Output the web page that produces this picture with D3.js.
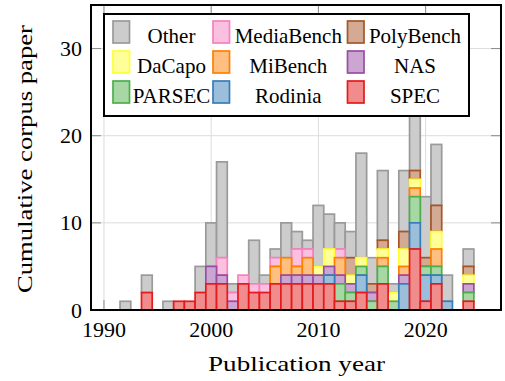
<!DOCTYPE html>
<html>
<head>
<meta charset="utf-8">
<script src="https://cdn.jsdelivr.net/npm/d3@7"></script>
<style>
  body { margin: 0; background: #fff; }
  svg text { font-family: "Liberation Serif", "Times New Roman", Times, serif; fill: #000; }
</style>
</head>
<body>
<svg id="chart" width="505" height="381"></svg>
<script>
// years on the x axis
var years = d3.range(1990, 2025);

// papers per year, one array per benchmark suite (index 0 = 1990)
var spec       = [0,0,0,0,2,0,0,1,1,2, 3,3,0,3,2,2,3,3,3,3, 3,3,1,1,2,0,3,0,0,7, 1,3,0,0,1];
var rodinia    = [0,0,0,0,0,0,0,0,0,0, 0,0,0,0,0,0,0,0,0,0, 0,1,0,0,2,0,0,0,3,3, 3,1,1,0,0];
var parsec     = [0,0,0,0,0,0,0,0,0,0, 0,0,0,0,0,0,0,0,0,0, 0,0,2,1,1,1,2,1,0,3, 1,1,0,0,1];
var nas        = [0,0,0,0,0,0,0,0,0,0, 2,1,1,0,0,0,0,1,1,1, 1,1,1,1,0,1,0,0,1,0, 0,0,0,0,1];
var mibench    = [0,0,0,0,0,0,0,0,0,0, 0,0,0,0,0,0,2,2,1,2, 0,0,2,0,0,0,1,0,1,1, 0,2,0,0,0];
var dacapo     = [0,0,0,0,0,0,0,0,0,0, 0,0,0,0,0,0,0,0,0,0, 1,2,0,1,1,0,1,1,2,1, 0,2,0,0,1];
var polybench  = [0,0,0,0,0,0,0,0,0,0, 0,0,0,0,0,0,0,0,0,0, 0,0,0,2,0,1,1,0,2,1, 1,3,0,0,1];
var mediabench = [0,0,0,0,0,0,0,0,0,0, 0,2,1,1,1,1,1,0,2,1, 0,0,1,0,0,0,0,0,0,0, 0,0,0,0,0];
var other      = [0,0,1,0,2,0,1,0,0,3, 5,11,1,0,5,1,1,4,2,1, 7,4,3,3,12,3,8,1,7,8, 7,7,3,0,2];

// stacking order, bottom first
var keys = ["SPEC", "Rodinia", "PARSEC", "NAS", "MiBench", "DaCapo", "PolyBench", "MediaBench", "Other"];
var seriesData = [spec, rodinia, parsec, nas, mibench, dacapo, polybench, mediabench, other];

// legend order (row by row)
var legendKeys = ["Other", "MediaBench", "PolyBench", "DaCapo", "MiBench", "NAS", "PARSEC", "Rodinia", "SPEC"];

var yTicks = [0, 10, 20, 30];
var xTicks = [1990, 2000, 2010, 2020];

var strokeColor = {
  Other: "#9a9a9a", MediaBench: "#f781bf", PolyBench: "#a65628", DaCapo: "#ffff33",
  MiBench: "#ff7f00", NAS: "#984ea3", PARSEC: "#4daf4a", Rodinia: "#377eb8", SPEC: "#e41a1c"
};
var fillColor = {
  Other: "#cccccc", MediaBench: "#fbc0df", PolyBench: "#d3aa93", DaCapo: "#ffff99",
  MiBench: "#ffbf80", NAS: "#cba6d1", PARSEC: "#a6d7a4", Rodinia: "#9bbedb", SPEC: "#f18c8d"
};

var drawChart = function() {
  var FONT = "Liberation Serif, Times New Roman, serif";
  var rows = years.map(function(yr, i) {
    var r = { year: yr };
    keys.forEach(function(k, j) { r[k] = seriesData[j][i]; });
    return r;
  });

  var svg = d3.select("#chart");
  var pLeft = 91, pRight = 501, pTop = 5, pBottom = 310;

  var x = d3.scaleLinear().domain([1988.79, 2027.03]).range([pLeft, pRight]);
  var y = d3.scaleLinear().domain([0, 35]).range([pBottom, pTop]);

  // grid
  var grid = svg.append("g").attr("stroke", "#dcdcdc").attr("stroke-width", 1);
  grid.selectAll("line.gx").data(xTicks).enter().append("line")
    .attr("x1", function(d) { return x(d); }).attr("x2", function(d) { return x(d); })
    .attr("y1", pTop).attr("y2", pBottom);
  grid.selectAll("line.gy").data(yTicks.slice(1)).enter().append("line")
    .attr("x1", pLeft).attr("x2", pRight)
    .attr("y1", function(d) { return y(d); }).attr("y2", function(d) { return y(d); });

  // tick marks (inside, on all four sides)
  var tk = svg.append("g").attr("stroke", "#8c8c8c").attr("stroke-width", 1);
  yTicks.forEach(function(t) {
    tk.append("line").attr("x1", pLeft).attr("x2", pLeft + 10).attr("y1", y(t)).attr("y2", y(t));
    tk.append("line").attr("x1", pRight - 10).attr("x2", pRight).attr("y1", y(t)).attr("y2", y(t));
  });
  xTicks.forEach(function(t) {
    tk.append("line").attr("x1", x(t)).attr("x2", x(t)).attr("y1", pBottom).attr("y2", pBottom - 10);
    tk.append("line").attr("x1", x(t)).attr("x2", x(t)).attr("y1", pTop).attr("y2", pTop + 10);
  });

  // bars: lower series drawn last so their outline stays on top
  var stacked = d3.stack().keys(keys)(rows);
  var bw = x(1) - x(0);
  var layers = svg.append("g").selectAll("g.layer").data(stacked.slice().reverse()).enter()
    .append("g").attr("class", "layer")
    .attr("fill", function(d) { return fillColor[d.key]; })
    .attr("stroke", function(d) { return strokeColor[d.key]; })
    .attr("stroke-width", 1.7);
  layers.selectAll("rect").data(function(d) {
    return d.filter(function(p) { return p[1] - p[0] > 0; });
  }).enter().append("rect")
    .attr("x", function(d) { return x(d.data.year - 0.5); })
    .attr("width", bw)
    .attr("y", function(d) { return y(d[1]); })
    .attr("height", function(d) { return y(d[0]) - y(d[1]); });

  // frame
  svg.append("rect").attr("x", pLeft).attr("y", pTop).attr("width", pRight - pLeft).attr("height", pBottom - pTop)
    .attr("fill", "none").attr("stroke", "#000").attr("stroke-width", 2);

  // tick labels
  svg.selectAll("text.yt").data(yTicks).enter().append("text").attr("class", "yt")
    .attr("x", pLeft - 9).attr("y", function(d) { return y(d) + 7.5; })
    .attr("text-anchor", "end").attr("font-family", FONT).attr("font-size", 22)
    .text(function(d) { return d; });
  svg.selectAll("text.xt").data(xTicks).enter().append("text").attr("class", "xt")
    .attr("x", function(d) { return x(d); }).attr("y", 336.5)
    .attr("text-anchor", "middle").attr("font-family", FONT).attr("font-size", 22)
    .text(function(d) { return d; });

  // axis titles
  svg.append("text").attr("x", 296.5).attr("y", 371).attr("text-anchor", "middle")
    .attr("font-family", FONT).attr("font-size", 22)
    .attr("textLength", 177).attr("lengthAdjust", "spacingAndGlyphs")
    .text("Publication year");
  svg.append("text").attr("transform", "translate(32,159) rotate(-90)").attr("text-anchor", "middle")
    .attr("font-family", FONT).attr("font-size", 22)
    .attr("textLength", 268).attr("lengthAdjust", "spacingAndGlyphs")
    .text("Cumulative corpus paper");

  // legend
  var legend = svg.append("g");
  legend.append("rect").attr("x", 104).attr("y", 14).attr("width", 365).attr("height", 102)
    .attr("fill", "#fff").attr("stroke", "#000").attr("stroke-width", 2);
  var swatchX = [113, 213, 347.5], textX = [171.5, 288.3, 415], rowY = [21, 51, 81];
  legendKeys.forEach(function(k, i) {
    var c = i % 3, r = Math.floor(i / 3);
    legend.append("rect").attr("x", swatchX[c]).attr("y", rowY[r]).attr("width", 16.5).attr("height", 22)
      .attr("fill", fillColor[k]).attr("stroke", strokeColor[k]).attr("stroke-width", 1.7);
    legend.append("text").attr("x", textX[c]).attr("y", rowY[r] + 22).attr("text-anchor", "middle")
      .attr("font-family", FONT).attr("font-size", 21).text(k);
  });
};

drawChart();
</script>
</body>
</html>
